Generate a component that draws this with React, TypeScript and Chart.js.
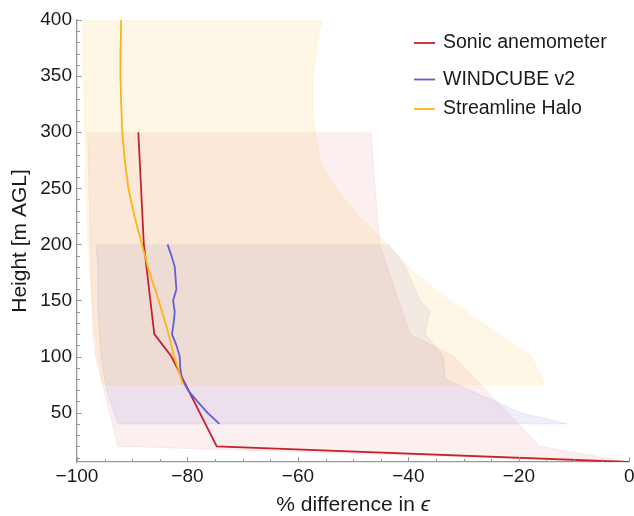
import React, { useEffect, useRef } from 'react';
import { Chart, registerables } from 'chart.js';

Chart.register(...registerables);

// ---- Data ----
const sonicHeights = [300, 200, 120, 100, 20, 6];
const sonicDiff = [-88.9, -87.9, -86.0, -82.9, -74.7, 0];
const sonicMin = [-98.1, -97.6, -97.1, -96.6, -92.6, 0];
const sonicMax = [-46.8, -45.2, -39.7, -31.8, -16.2, 0];

const windcubeHeights = [200, 190, 180, 170, 160, 150, 140, 130, 120, 110, 100, 90, 80, 70, 60, 50, 40];
const windcubeDiff = [-83.6, -82.9, -82.3, -82.15, -82.0, -82.6, -82.3, -82.5, -82.8, -82.0, -81.4, -81.3, -81.0, -79.9, -78.2, -76.4, -74.2];
const windcubeMin = [-96.5, -96.4, -96.3, -96.2, -96.2, -96.3, -96.2, -96.0, -95.9, -95.8, -95.6, -95.3, -95.0, -94.6, -94.0, -93.3, -92.6];
const windcubeMax = [-43.6, -42.0, -40.6, -39.7, -38.8, -37.9, -36.1, -36.6, -37.0, -35.3, -33.7, -33.5, -33.3, -28.9, -24.2, -19.7, -11.3];

const haloHeights = [400, 375, 350, 325, 300, 275, 250, 225, 200, 175, 150, 125, 100, 75];
const haloDiff = [-92.0, -92.1, -92.15, -92.0, -91.8, -91.35, -90.7, -89.6, -88.25, -86.9, -85.2, -83.7, -82.4, -80.8];
const haloMin = [-98.9, -98.9, -98.8, -98.7, -98.6, -98.5, -98.4, -98.2, -98.0, -97.7, -97.3, -96.8, -96.2, -95.4];
const haloMax = [-55.7, -56.6, -57.2, -57.3, -56.9, -56.0, -53.2, -49.0, -43.8, -39.0, -32.5, -25.0, -17.7, -15.2];

const seriesLabels = ['Sonic anemometer', 'WINDCUBE v2', 'Streamline Halo'];
const xTickValues = [-100, -80, -60, -40, -20, 0];
const yTickValues = [50, 100, 150, 200, 250, 300, 350, 400];
const xRange = [-100, 0];
const yRange = [6, 400];
const xTitleMain = '% difference in ';
const xTitleSymbol = '\u03F5';
const yTitle = 'Height [m AGL]';

// ---- Styles ----
const FAMILY = "'Liberation Sans', Arial, Helvetica, sans-serif";
const RED = '#C4232E';
const BLUE = '#5F5FD8';
const YELLOW = '#FDB515';
const AXIS = '#9a9a9a';
const TEXT = '#1a1a1a';

function toLine(h: number[], d: number[]) {
  return h.map((y, i) => ({ x: d[i], y }));
}
function toBand(h: number[], lo: number[], hi: number[]) {
  const right = h.map((y, i) => ({ x: hi[i], y }));
  const left = h.map((y, i) => ({ x: lo[i], y })).reverse();
  return [...right, ...left];
}

const ticksPlugin = {
  id: 'innerTicks',
  afterDraw(chart: any) {
    const { ctx, chartArea: ca, scales } = chart;
    const xs = scales.x;
    const ys = scales.y;
    ctx.save();
    ctx.strokeStyle = AXIS;
    ctx.lineWidth = 1;
    ctx.beginPath();
    for (let v = xRange[0]; v <= xRange[1] + 1e-9; v += 5) {
      const px = Math.round(xs.getPixelForValue(v)) + 0.5;
      const len = v % 20 === 0 ? 5 : 3;
      ctx.moveTo(px, ca.bottom);
      ctx.lineTo(px, ca.bottom - len);
    }
    for (let v = 10; v <= yRange[1] + 1e-9; v += 10) {
      const py = Math.round(ys.getPixelForValue(v)) + 0.5;
      const len = v % 50 === 0 ? 5 : 3;
      ctx.moveTo(ca.left, py);
      ctx.lineTo(ca.left + len, py);
    }
    ctx.stroke();

    // x-axis title with italic epsilon
    const normal = `21px ${FAMILY}`;
    const ital = `italic 21px ${FAMILY}`;
    ctx.font = normal;
    const w1 = ctx.measureText(xTitleMain).width;
    ctx.font = ital;
    const w2 = ctx.measureText(xTitleSymbol).width;
    const cx = (ca.left + ca.right) / 2;
    const x0 = cx - (w1 + w2) / 2;
    ctx.fillStyle = TEXT;
    ctx.textBaseline = 'alphabetic';
    ctx.textAlign = 'left';
    ctx.font = normal;
    ctx.fillText(xTitleMain, x0, 511);
    ctx.font = ital;
    ctx.fillText(xTitleSymbol, x0 + w1, 511);

    // legend
    const colors = [RED, BLUE, YELLOW];
    const ys2 = [43, 79.5, 109];
    ctx.font = `19.5px ${FAMILY}`;
    ctx.textBaseline = 'middle';
    seriesLabels.forEach((lab, i) => {
      ctx.strokeStyle = colors[i];
      ctx.lineWidth = 1.8;
      ctx.beginPath();
      ctx.moveTo(414, ys2[i]);
      ctx.lineTo(435, ys2[i]);
      ctx.stroke();
      ctx.fillStyle = TEXT;
      ctx.fillText(lab, 443, ys2[i]);
    });
    ctx.restore();
  },
};

export default function App() {
  const ref = useRef<HTMLCanvasElement | null>(null);
  useEffect(() => {
    if (!ref.current) return;
    const bandBase = {
      showLine: true,
      pointRadius: 0,
      fill: 'shape',
      borderWidth: 1,
      tension: 0,
    };
    const lineBase = {
      showLine: true,
      pointRadius: 0,
      fill: false,
      borderWidth: 1.8,
      tension: 0,
    };
    const chart = new Chart(ref.current, {
      type: 'scatter',
      data: {
        datasets: [
          {
            ...bandBase,
            label: seriesLabels[0] + ' range',
            data: toBand(sonicHeights, sonicMin, sonicMax),
            backgroundColor: 'rgba(215, 35, 45, 0.075)',
            borderColor: 'rgba(215, 35, 45, 0.08)',
            order: 30,
          },
          {
            ...bandBase,
            label: seriesLabels[1] + ' range',
            data: toBand(windcubeHeights, windcubeMin, windcubeMax),
            backgroundColor: 'rgba(80, 80, 210, 0.09)',
            borderColor: 'rgba(80, 80, 210, 0.1)',
            order: 20,
          },
          {
            ...bandBase,
            label: seriesLabels[2] + ' range',
            data: toBand(haloHeights, haloMin, haloMax),
            backgroundColor: 'rgba(255, 180, 0, 0.1)',
            borderColor: 'rgba(255, 180, 0, 0.1)',
            order: 10,
          },
          {
            ...lineBase,
            label: seriesLabels[0],
            data: toLine(sonicHeights, sonicDiff),
            borderColor: RED,
            order: 3,
          },
          {
            ...lineBase,
            label: seriesLabels[1],
            data: toLine(windcubeHeights, windcubeDiff),
            borderColor: BLUE,
            order: 2,
          },
          {
            ...lineBase,
            label: seriesLabels[2],
            data: toLine(haloHeights, haloDiff),
            borderColor: YELLOW,
            order: 1,
          },
        ] as any,
      },
      options: {
        responsive: false,
        animation: false,
        layout: { padding: { top: 20, right: 0, left: 0, bottom: 0 } },
        plugins: {
          legend: { display: false },
          tooltip: { enabled: false },
        },
        scales: {
          x: {
            type: 'linear',
            position: 'bottom',
            min: xRange[0],
            max: xRange[1],
            grid: { display: false, drawTicks: false },
            border: { display: true, color: AXIS, width: 1.3 },
            ticks: {
              color: TEXT,
              font: { family: FAMILY, size: 19 },
              padding: 3,
              maxRotation: 0,
              autoSkip: false,
              callback: (v: any) => (v < 0 ? '\u2212' + Math.abs(v) : String(v)),
            },
            afterBuildTicks: (s: any) => {
              s.ticks = xTickValues.map((v) => ({ value: v }));
            },
            afterFit: (s: any) => {
              s.height = 54;
              s.paddingRight = 4.7;
              s.paddingLeft = 0;
            },
          },
          y: {
            type: 'linear',
            position: 'left',
            min: yRange[0],
            max: yRange[1],
            grid: { display: false, drawTicks: false },
            border: { display: true, color: AXIS, width: 1.3 },
            ticks: {
              color: TEXT,
              font: { family: FAMILY, size: 19 },
              padding: 5,
              autoSkip: false,
              callback: (v: any) => String(v),
            },
            afterBuildTicks: (s: any) => {
              s.ticks = yTickValues.map((v) => ({ value: v }));
            },
            afterFit: (s: any) => {
              s.width = 77;
            },
            title: {
              display: true,
              text: yTitle,
              color: TEXT,
              font: { family: FAMILY, size: 21 },
              padding: { top: 8, bottom: 0 },
            },
          },
        },
      } as any,
      plugins: [ticksPlugin],
    });
    return () => chart.destroy();
  }, []);
  return (
    <div style={{ position: 'fixed', left: 0, top: 0, width: 634, height: 516, background: '#fff' }}>
      <canvas ref={ref} width={634} height={516} style={{ display: 'block', width: 634, height: 516 }} />
    </div>
  );
}
